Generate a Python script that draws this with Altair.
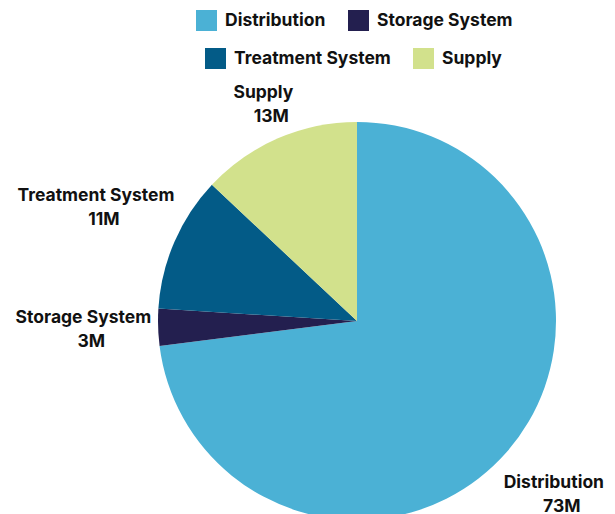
import math
import altair as alt
import pandas as pd

categories = ["Distribution", "Storage System", "Treatment System", "Supply"]
values = [73, 3, 11, 13]
value_labels = ["73M", "3M", "11M", "13M"]
colors = ["#4BB1D5", "#231F4F", "#035B87", "#D2E18C"]
legend_row1 = ["Distribution", "Storage System"]
legend_row2 = ["Treatment System", "Supply"]

# label radius derived from slice mid-angle and label size (keeps labels just outside the pie)
total = sum(values)
cum = 0
mids = []
for v in values:
    mids.append((cum + v / 2) / total * 2 * math.pi)
    cum += v
CHAR_W = 9.6
BLOCK_H = 40
BASE_R = 206
label_r = [BASE_R + abs(math.sin(m)) * len(c) * CHAR_W / 2 + abs(math.cos(m)) * BLOCK_H / 2
           for m, c in zip(mids, categories)]

df = pd.DataFrame({
    "category": categories,
    "value": values,
    "vlabel": value_labels,
    "idx": list(range(len(categories))),
    "lr": label_r,
})

FONT = "Inter"
FS = 17.5
color_scale = alt.Scale(domain=categories, range=colors)

base = alt.Chart(df).encode(
    theta=alt.Theta("value:Q", stack=True),
    order=alt.Order("idx:Q"),
)

arcs = base.mark_arc(outerRadius=199).encode(
    color=alt.Color("category:N", scale=color_scale, legend=None)
)


def legend_layer(vals, lx, ly):
    return base.mark_arc(outerRadius=199, opacity=0).encode(
        color=alt.Color(
            "category:N",
            scale=color_scale,
            legend=alt.Legend(
                title=None,
                values=vals,
                orient="none",
                direction="horizontal",
                legendX=lx,
                legendY=ly,
                symbolType="square",
                symbolSize=441,
                symbolStrokeWidth=0,
                symbolOpacity=1,
                labelFont=FONT,
                labelFontSize=FS,
                labelFontWeight="bold",
                labelColor="#111111",
                labelOffset=8,
                columnPadding=22,
            ),
        )
    )


leg1 = legend_layer(legend_row1, 39, -111)
leg2 = legend_layer(legend_row2, 48, -73)

label_base = alt.Chart(df).transform_window(
    cum="sum(value)", sort=[{"field": "idx"}]
).transform_calculate(
    mid="datum.cum - datum.value / 2"
).encode(
    theta=alt.Theta("mid:Q", stack=None, scale=alt.Scale(domain=[0, total])),
    radius=alt.Radius("lr:Q", scale=None),
)

text_style = dict(font=FONT, fontWeight="bold", fontSize=FS, align="center",
                  baseline="middle", color="#111111")

name_text = label_base.mark_text(dy=-12, **text_style).encode(text="category:N")
value_text = label_base.mark_text(dy=12, dx=8, **text_style).encode(text="vlabel:N")

chart = alt.layer(arcs, leg1, leg2, name_text, value_text).resolve_scale(
    color="independent", theta="independent"
).properties(
    width=400,
    height=400,
    padding={"left": 149, "top": 113, "right": 50, "bottom": 0},
    autosize="none",
    background="white",
).configure_view(stroke=None)

chart.save("out.html", embed_options={"renderer": "svg", "actions": False})
